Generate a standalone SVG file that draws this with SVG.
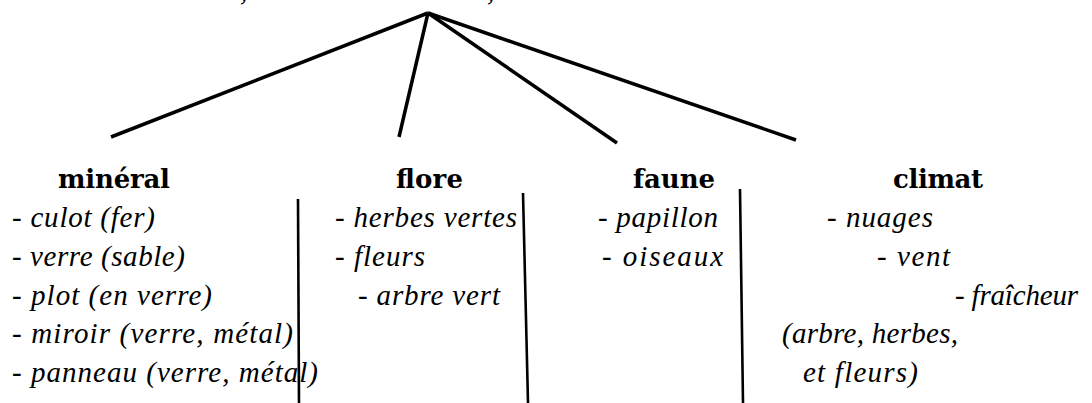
<svg xmlns="http://www.w3.org/2000/svg" width="1092" height="403" viewBox="0 0 1092 403">
<style>
.h{font-family:"DejaVu Serif","Liberation Serif",serif;font-weight:bold;font-size:26px;fill:#000}
.i{font-family:"Liberation Serif","Times New Roman",serif;font-style:italic;font-size:29px;fill:#000}
.c{stroke:#000;stroke-width:3.5;stroke-linecap:butt;fill:none}
.s{stroke:#000;stroke-width:2.6;fill:none}
</style>
<rect width="1092" height="403" fill="#fff"/>
<g id="root">
<text class="i" x="240" y="0">,</text>
<text class="i" x="487" y="0">,</text>
</g>
<g id="connectors">
<line class="c" x1="428" y1="13" x2="111" y2="137"/>
<line class="c" x1="428" y1="13" x2="399" y2="137"/>
<line class="c" x1="428" y1="13" x2="617" y2="143"/>
<line class="c" x1="428" y1="13" x2="796" y2="140"/>
<line class="s" x1="298" y1="199" x2="299" y2="403"/>
<line class="s" x1="523" y1="193" x2="528" y2="403"/>
<line class="s" x1="740" y1="189" x2="743" y2="403"/>
</g>
<g id="mineral">
<text class="h" x="58" y="188" textLength="112">minéral</text>
<text class="i" x="12" y="227" textLength="143">- culot (fer)</text>
<text class="i" x="12" y="266" textLength="173">- verre (sable)</text>
<text class="i" x="12" y="305" textLength="200">- plot (en verre)</text>
<text class="i" x="12" y="343" textLength="281">- miroir (verre, métal)</text>
<text class="i" x="12" y="382" textLength="306">- panneau (verre, métal)</text>
</g>
<g id="flore">
<text class="h" x="396" y="188" textLength="67">flore</text>
<text class="i" x="335" y="227" textLength="182">- herbes vertes</text>
<text class="i" x="335" y="266" textLength="90">- fleurs</text>
<text class="i" x="358" y="305" textLength="142">- arbre vert</text>
</g>
<g id="faune">
<text class="h" x="633" y="188" textLength="82">faune</text>
<text class="i" x="598" y="227" textLength="120">- papillon</text>
<text class="i" x="602" y="266" textLength="121">- oiseaux</text>
</g>
<g id="climat">
<text class="h" x="893" y="188" textLength="90">climat</text>
<text class="i" x="827" y="227" textLength="106">- nuages</text>
<text class="i" x="877" y="266" textLength="73">- vent</text>
<text class="i" x="955" y="305" textLength="123">- fraîcheur</text>
<text class="i" x="782" y="343" textLength="176">(arbre, herbes,</text>
<text class="i" x="803" y="382" textLength="115">et fleurs)</text>
</g>
</svg>
